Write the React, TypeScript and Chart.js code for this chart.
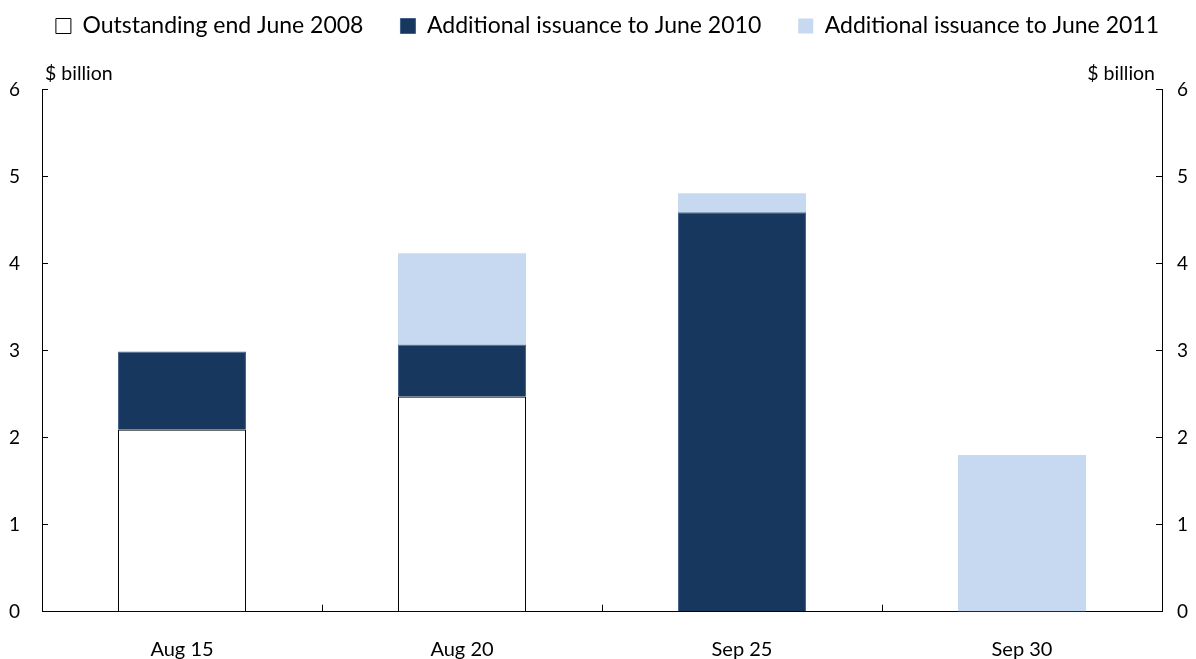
import { useEffect, useRef } from 'react';
import { Chart, registerables } from 'chart.js';

Chart.register(...registerables);

const categories = ['Aug 15', 'Aug 20', 'Sep 25', 'Sep 30'];
const outstandingJune2008 = [2.09, 2.47, null, null];
const issuanceToJune2010 = [0.9, 0.6, 4.59, null];
const issuanceToJune2011 = [null, 1.05, 0.22, 1.8];
const seriesNames = [
  'Outstanding end June 2008',
  'Additional issuance to June 2010',
  'Additional issuance to June 2011',
];
const yMin = 0;
const yMax = 6;
const yStep = 1;
const unitLabel = '$ billion';

const FONT = 'Lato, "Open Sans", sans-serif';

const unitLabelsPlugin = {
  id: 'unitLabels',
  afterDraw(chart: any) {
    const { ctx, chartArea } = chart;
    ctx.save();
    ctx.font = `19.5px ${FONT}`;
    ctx.fillStyle = '#000';
    ctx.textBaseline = 'middle';
    ctx.textAlign = 'left';
    ctx.fillText(unitLabel, chartArea.left + 3, chartArea.top - 16);
    ctx.textAlign = 'right';
    ctx.fillText(unitLabel, chartArea.right - 7, chartArea.top - 16);
    ctx.restore();
  },
};

export default function App() {
  const ref = useRef<HTMLCanvasElement>(null);

  useEffect(() => {
    Chart.defaults.font.family = FONT;
    Chart.defaults.color = '#000';
    const chart = new Chart(ref.current as HTMLCanvasElement, {
      type: 'bar',
      data: {
        labels: categories,
        datasets: [
          {
            label: seriesNames[0],
            data: outstandingJune2008,
            backgroundColor: '#ffffff',
            borderColor: '#000000',
            borderWidth: 1,
            yAxisID: 'y',
          },
          {
            label: seriesNames[1],
            data: issuanceToJune2010,
            backgroundColor: '#17375e',
            borderColor: '#41618a',
            borderWidth: 1,
            yAxisID: 'y',
          },
          {
            label: seriesNames[2],
            data: issuanceToJune2011,
            backgroundColor: '#c6d9f1',
            borderColor: '#c6d9f1',
            borderWidth: 0,
            yAxisID: 'y',
          },
        ] as any,
      },
      options: {
        animation: false,
        responsive: true,
        maintainAspectRatio: false,
        layout: { padding: { top: -22.5, left: 0, right: 0, bottom: 0 } },
        datasets: {
          bar: { barPercentage: 0.457, categoryPercentage: 1 },
        },
        plugins: {
          legend: {
            display: true,
            position: 'top',
            align: 'end',
            labels: {
              boxWidth: 15,
              boxHeight: 15,
              padding: 37,
              color: '#000',
              font: { size: 23, family: FONT },
            },
          },
          title: {
            display: true,
            text: '',
            weight: 500,
            padding: { top: 30.2, bottom: 0 },
            font: { size: 10, lineHeight: 1.2 },
          } as any,
          tooltip: { enabled: false },
        },
        scales: {
          x: {
            type: 'category',
            stacked: true,
            grid: {
              display: true,
              drawOnChartArea: false,
              drawTicks: true,
              offset: true,
              tickLength: -7,
              color: '#000',
              lineWidth: 1,
            },
            border: { display: true, color: '#000', width: 1 },
            ticks: { font: { size: 20 }, color: '#000', padding: 33 },
            afterFit(scale: any) {
              scale.height = 47.3;
            },
          },
          y: {
            type: 'linear',
            position: 'left',
            stacked: true,
            min: yMin,
            max: yMax,
            ticks: { stepSize: yStep, font: { size: 19 }, color: '#000', padding: 28 },
            grid: {
              display: true,
              drawOnChartArea: false,
              drawTicks: true,
              tickLength: -6,
              color: '#000',
              lineWidth: 1,
            },
            border: { display: true, color: '#000', width: 1 },
            afterFit(scale: any) {
              scale.width = 42;
            },
          },
          y2: {
            type: 'linear',
            position: 'right',
            min: yMin,
            max: yMax,
            ticks: { stepSize: yStep, font: { size: 19 }, color: '#000', padding: 21 },
            grid: {
              display: true,
              drawOnChartArea: false,
              drawTicks: true,
              tickLength: -6,
              color: '#000',
              lineWidth: 1,
            },
            border: { display: true, color: '#000', width: 1 },
            afterFit(scale: any) {
              scale.width = 34;
            },
          },
        },
      } as any,
      plugins: [unitLabelsPlugin],
    });
    return () => chart.destroy();
  }, []);

  return (
    <div
      style={{
        position: 'fixed',
        left: 0,
        top: 0,
        width: 1196,
        height: 659,
        background: '#fff',
      }}
    >
      <canvas ref={ref} />
    </div>
  );
}
